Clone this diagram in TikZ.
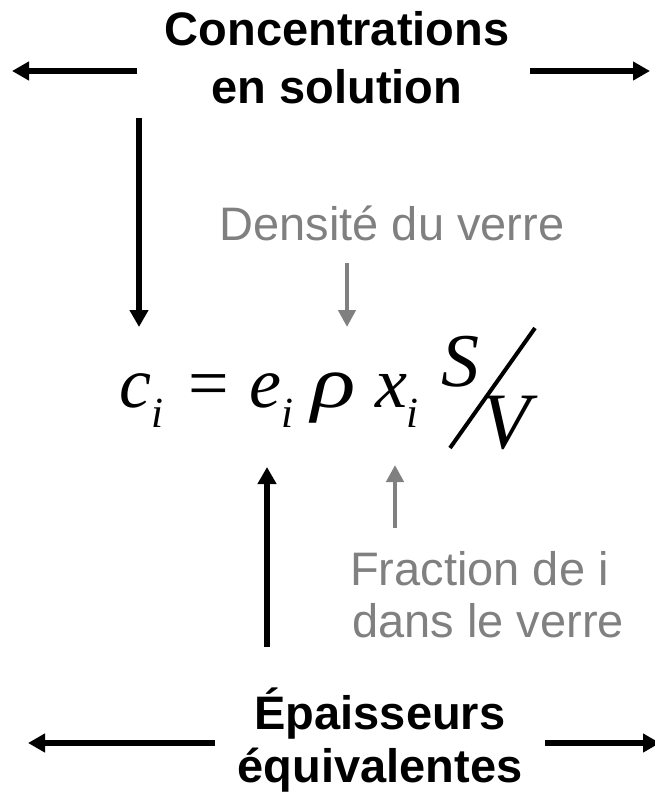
\documentclass[tikz,border=0pt]{standalone}
\usepackage{fontspec}
\setmainfont{Liberation Sans}
\newfontfamily\tms{Liberation Serif}
\usetikzlibrary{arrows.meta}
\definecolor{lgray}{HTML}{808080}
\tikzset{
  bigbold/.style={inner sep=0pt,anchor=base,font=\fontsize{47}{56}\selectfont\bfseries},
  graytxt/.style={inner sep=0pt,text=lgray,font=\fontsize{47}{56}\selectfont},
  fm/.style={inner sep=0pt,anchor=base west,font=\tms\itshape\fontsize{72}{80}\selectfont},
  fmup/.style={inner sep=0pt,anchor=base west,font=\tms\fontsize{72}{80}\selectfont},
  fmbig/.style={inner sep=0pt,anchor=base west,font=\tms\itshape\fontsize{76}{80}\selectfont},
  fsub/.style={inner sep=0pt,anchor=base west,font=\tms\itshape\fontsize{43}{50}\selectfont},
  blackarrow/.style={line width=6pt,-{Triangle[length=17pt,width=18pt]}},
  grayarrow/.style={line width=4.5pt,draw=lgray,-{Triangle[length=17pt,width=17pt]}},
}
\begin{document}
\begin{tikzpicture}[x=1pt,y=-1pt]
\useasboundingbox (0,0) rectangle (655,793);
% top title
\node[bigbold] (conc) at (337,45) {Concentrations};
\node[bigbold] (sol) at (337,103) {en solution};
% bottom title
\node[bigbold] (epa) at (380,729) {Épaisseurs};
\node[bigbold] (equ) at (380,782) {équivalentes};
% gray labels
\node[graytxt,anchor=base] (dens) at (392,240) {Densité du verre};
\node[graytxt,anchor=base west] (frac) at (350,585) {Fraction de i};
\node[graytxt,anchor=base west] (dans) at (352,637) {dans le verre};
% formula
\node[fm] (c) at (119,407) {c};
\node[fsub] (ci) at (151,427) {i};
\node[fmup] (eq) at (188,407) {=};
\node[fm] (e) at (249,407) {e};
\node[fsub] (ei) at (281,427) {i};
\node[fm,xscale=1.25,font=\tms\itshape\fontsize{74}{80}\selectfont] (rho) at (311,407) {ρ};
\node[fm] (x) at (375,407) {x};
\node[fsub] (xi) at (406,427) {i};
\node[fmbig] (S) at (441,386) {S};
\node[fmbig,font=\tms\itshape\fontsize{80}{80}\selectfont] (V) at (481,448) {V};
\coordinate (sl1) at (450,448);
\coordinate (sl2) at (535,328);
\draw[line width=4pt] (sl1) -- (sl2);
% arrow end points
\coordinate (tl0) at (137,71);  \coordinate (tl1) at (12,71);
\coordinate (tr0) at (530,71);  \coordinate (tr1) at (650,71);
\coordinate (bl0) at (215,743); \coordinate (bl1) at (28,743);
\coordinate (br0) at (545,743); \coordinate (br1) at (660,743);
\coordinate (d0) at (139,118);  \coordinate (d1) at (139,327);
\coordinate (g0) at (347,263);  \coordinate (g1) at (347,327);
\coordinate (u0) at (267,647);  \coordinate (u1) at (267,467);
\coordinate (h0) at (395,528);  \coordinate (h1) at (395,465);
\draw[blackarrow] (tl0) -- (tl1);
\draw[blackarrow] (tr0) -- (tr1);
\draw[blackarrow] (bl0) -- (bl1);
\draw[blackarrow] (br0) -- (br1);
\draw[blackarrow] (d0) -- (d1);
\draw[blackarrow] (u0) -- (u1);
\draw[grayarrow] (g0) -- (g1);
\draw[grayarrow] (h0) -- (h1);
\end{tikzpicture}
\end{document}
